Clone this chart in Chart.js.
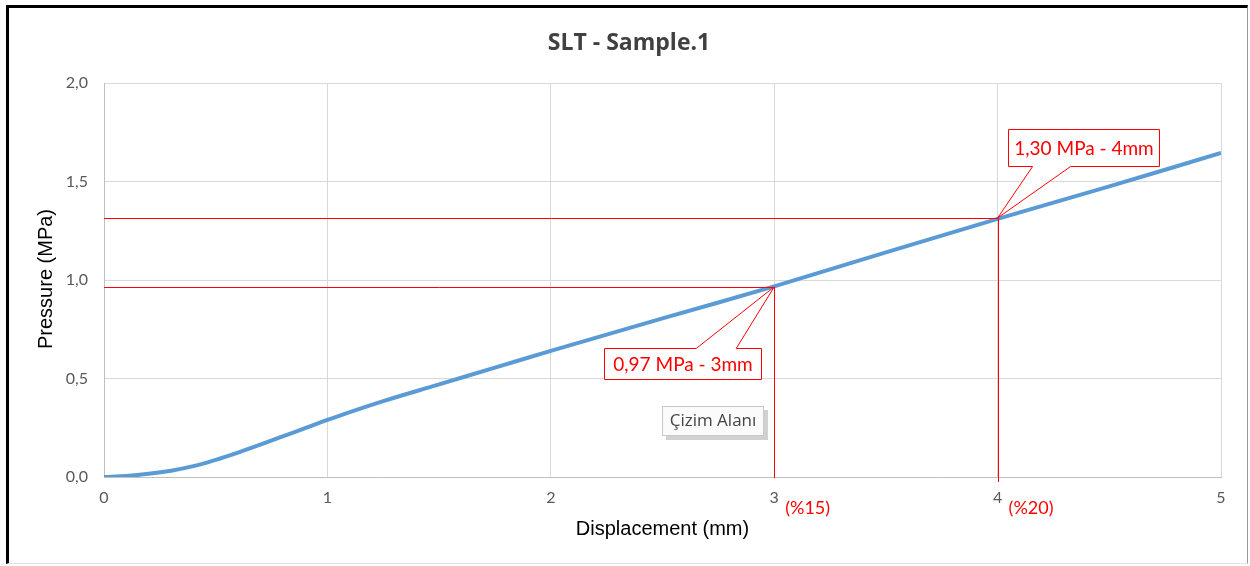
<!DOCTYPE html>
<html>
<head>
<meta charset="utf-8">
<script src="https://cdn.jsdelivr.net/npm/chart.js@4.4.1/dist/chart.umd.min.js"></script>
<style>
  html, body { margin: 0; padding: 0; background: #fff; }
  #wrap { position: relative; width: 1250px; height: 566px; }
  #frame {
    position: absolute; left: 6px; top: 5px; width: 1242px; height: 559px;
    border-left: 3px solid #000; border-top: 3px solid #000;
    border-right: 1px solid #9a9a9a; border-bottom: 1px solid #e4e4e4;
    box-sizing: border-box; pointer-events: none;
  }
</style>
</head>
<body>
<div id="wrap">
  <canvas id="grafico" width="1250" height="566"></canvas>
  <div id="frame"></div>
</div>
<script>
// displacement (mm) / pressure (MPa)
const displacement = [0, 0.1, 0.2, 0.3, 0.4, 0.5, 0.6, 0.7, 0.8, 0.9, 1.0, 1.25, 1.5, 1.75, 2.0, 2.5, 3.0, 3.5, 4.0, 4.5, 5.0];
const pressure     = [0, 0.005, 0.016, 0.032, 0.055, 0.087, 0.124, 0.164, 0.206, 0.248, 0.29, 0.385, 0.47, 0.555, 0.64, 0.805, 0.968, 1.14, 1.31, 1.475, 1.645];

// marked points
const markX = [3, 4];
const markY = [0.965, 1.315];
const markText = ['0,97 MPa - 3mm', '1,30 MPa - 4mm'];
const markPct = ['(%15)', '(%20)'];

const chartTitle = 'SLT - Sample.1';
const xTitle = 'Displacement (mm)';
const yTitle = 'Pressure (MPa)';

const RED = '#ff0000';

// callout boxes, offsets from the marked point (pixels)
const callouts = [
    { dx: -170, dy: 61, w: 157, h: 31, b1: -78, b2: -38 },
    { dx: 10, dy: -89, w: 151, h: 37, b1: 35, b2: 73 }
];

const extras = {
    id: 'extras',
    afterDraw(chart) {
        const ctx = chart.ctx;
        const ca = chart.chartArea;
        const xs = chart.scales.x, ys = chart.scales.y;
        ctx.save();

        // red guide lines
        ctx.strokeStyle = RED;
        ctx.lineWidth = 1;
        markX.forEach((mx, i) => {
            const px = Math.round(xs.getPixelForValue(mx)) + 0.5;
            const py = Math.round(ys.getPixelForValue(markY[i])) + 0.5;
            ctx.beginPath();
            ctx.moveTo(ca.left, py);
            ctx.lineTo(px, py);
            ctx.moveTo(px, py);
            ctx.lineTo(px, ca.bottom + (i === 1 ? 5 : 1));
            ctx.stroke();
        });

        // callouts
        ctx.font = '19px Lato';
        ctx.textAlign = 'center';
        ctx.textBaseline = 'middle';
        markX.forEach((mx, i) => {
            const tx = xs.getPixelForValue(mx);
            const ty = ys.getPixelForValue(markY[i]);
            const c = callouts[i];
            const l = Math.round(tx + c.dx) + 0.5, t = Math.round(ty + c.dy) + 0.5;
            const r = l + c.w, b = t + c.h;
            const base = c.dy > 0 ? t : b;
            ctx.beginPath();
            ctx.moveTo(tx + c.b1, base);
            ctx.lineTo(tx, ty);
            ctx.lineTo(tx + c.b2, base);
            if (c.dy > 0) {
                ctx.lineTo(r, t); ctx.lineTo(r, b); ctx.lineTo(l, b); ctx.lineTo(l, t);
            } else {
                ctx.lineTo(r, b); ctx.lineTo(r, t); ctx.lineTo(l, t); ctx.lineTo(l, b);
            }
            ctx.closePath();
            ctx.fillStyle = '#fff';
            ctx.fill();
            ctx.strokeStyle = RED;
            ctx.stroke();
            ctx.fillStyle = RED;
            ctx.fillText(markText[i], (l + r) / 2, (t + b) / 2 + 1);
        });

        // (%15) (%20) next to tick labels
        ctx.font = '18px Lato';
        ctx.textAlign = 'left';
        markX.forEach((mx, i) => {
            ctx.fillText(markPct[i], xs.getPixelForValue(mx) + 11, ca.bottom + 31);
        });

        // title
        ctx.fillStyle = '#404040';
        ctx.font = 'bold 23px "Open Sans"';
        ctx.textAlign = 'center';
        ctx.fillText(chartTitle, 629, 43);

        // axis titles
        ctx.fillStyle = '#000';
        ctx.font = '20px "Liberation Sans"';
        ctx.fillText(xTitle, (ca.left + ca.right) / 2, 529);
        ctx.save();
        ctx.translate(46, 279);
        ctx.rotate(-Math.PI / 2);
        ctx.fillText(yTitle, 0, 0);
        ctx.restore();

        // hover label
        ctx.fillStyle = 'rgba(0,0,0,0.18)';
        ctx.fillRect(666, 410, 102, 30);
        ctx.fillStyle = '#fbfbfb';
        ctx.strokeStyle = '#c8c8c8';
        ctx.fillRect(662.5, 406.5, 101, 29);
        ctx.strokeRect(662.5, 406.5, 101, 29);
        ctx.fillStyle = '#444';
        ctx.font = '17px "Open Sans"';
        ctx.fillText('Çizim Alanı', 713, 421);

        ctx.restore();
    }
};

new Chart(document.getElementById('grafico'), {
    type: 'line',
    data: {
        datasets: [{
            data: displacement.map((x, i) => ({ x, y: pressure[i] })),
            borderColor: '#5b9bd5',
            borderWidth: 4,
            pointRadius: 0,
            tension: 0.4,
            fill: false
        }]
    },
    options: {
        responsive: false,
        animation: false,
        devicePixelRatio: 1,
        layout: { padding: { top: 83, right: 29, left: 0, bottom: 0 } },
        plugins: { legend: { display: false }, tooltip: { enabled: false }, title: { display: false } },
        scales: {
            x: {
                type: 'linear', min: 0, max: 5,
                ticks: { stepSize: 1, color: '#595959', font: { family: 'Lato', size: 16 }, padding: 11 },
                grid: { color: '#d9d9d9', drawTicks: false },
                border: { color: '#bfbfbf' },
                afterFit: s => { s.height = 89; }
            },
            y: {
                min: 0, max: 2,
                ticks: {
                    stepSize: 0.5, color: '#595959', font: { family: 'Lato', size: 16 }, padding: 16,
                    callback: v => v.toFixed(1).replace('.', ',')
                },
                grid: { color: '#d9d9d9', drawTicks: false },
                border: { color: '#bfbfbf' },
                afterFit: s => { s.width = 104; }
            }
        }
    },
    plugins: [extras]
});
</script>
</body>
</html>
